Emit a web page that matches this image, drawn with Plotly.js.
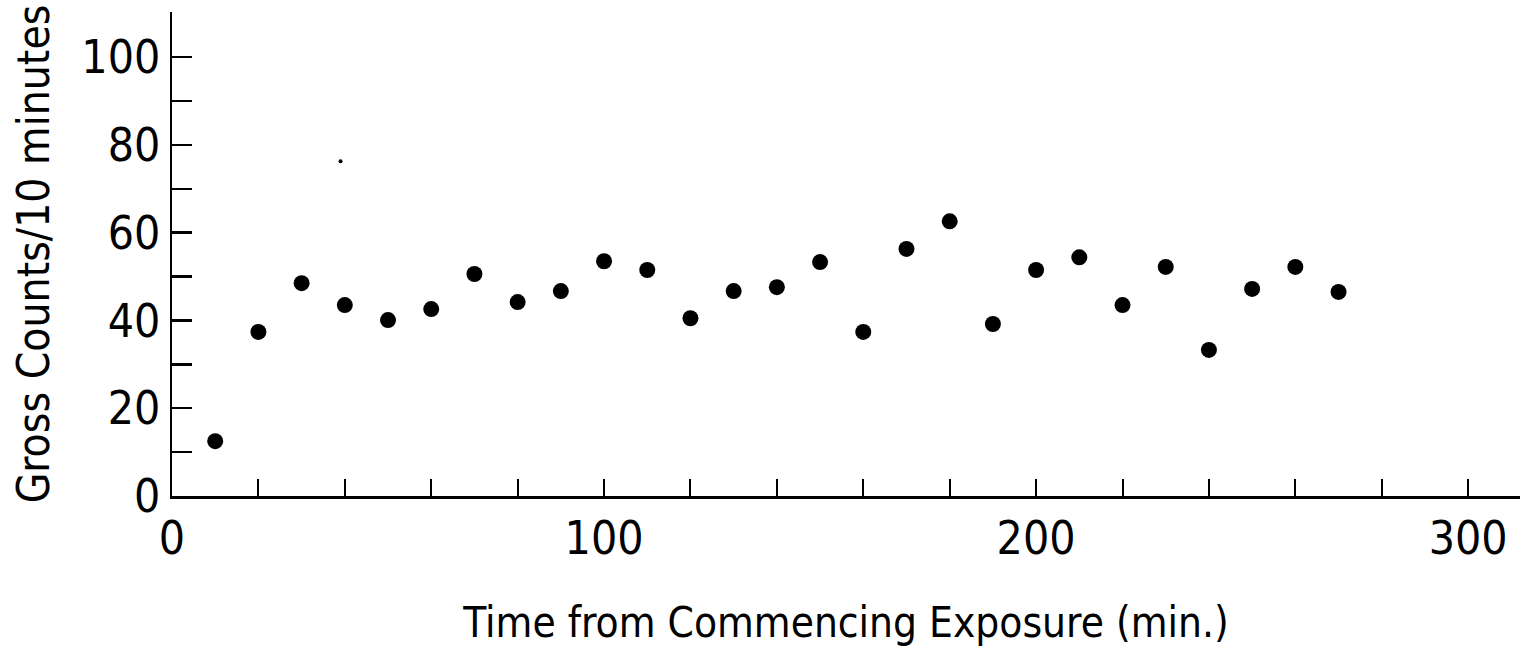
<!DOCTYPE html>
<html>
<head>
<meta charset="utf-8">
<script src="https://cdn.plot.ly/plotly-3.0.1.min.js"></script>
<style>
  html, body { margin: 0; padding: 0; background: #fff; }
  #chart { width: 1522px; height: 656px; }
</style>
</head>
<body>
<div id="chart"></div>
<script>
// Time from commencing exposure (min.)
const times = [10, 20, 30, 40, 50, 60, 70, 80, 90, 100, 110, 120, 130, 140, 150,
               160, 170, 180, 190, 200, 210, 220, 230, 240, 250, 260, 270];
// Gross counts per 10 minutes
const counts = [12.5, 37.4, 48.5, 43.5, 40.1, 42.6, 50.6, 44.2, 46.7, 53.5, 51.5, 40.5, 46.7, 47.6, 53.3,
                37.4, 56.3, 62.6, 39.2, 51.5, 54.4, 43.5, 52.2, 33.3, 47.2, 52.2, 46.5];
// small speck visible in the original figure
const speckX = [39];
const speckY = [76.3];

const xTickVals = [0, 20, 40, 60, 80, 100, 120, 140, 160, 180, 200, 220, 240, 260, 280, 300];
const xTickText = ["0", "", "", "", "", "100", "", "", "", "", "200", "", "", "", "", "300"];
const yTickVals = [0, 10, 20, 30, 40, 50, 60, 70, 80, 90, 100];
const yTickText = ["0", "", "20", "", "40", "", "60", "", "80", "", "100"];

const FONT = '"Liberation Sans Narrow", "DejaVu Sans Condensed", "Arial Narrow", sans-serif';

const traces = [
  {
    x: times, y: counts, type: 'scatter', mode: 'markers',
    marker: { color: '#000', size: 16, line: { width: 0 } },
    hoverinfo: 'x+y'
  },
  {
    x: speckX, y: speckY, type: 'scatter', mode: 'markers',
    marker: { color: '#000', size: 4, line: { width: 0 } },
    hoverinfo: 'skip'
  }
];

const layout = {
  width: 1522, height: 656,
  margin: { l: 172, r: 2, t: 12, b: 160 },
  paper_bgcolor: '#fff', plot_bgcolor: '#fff',
  showlegend: false,
  font: { family: FONT, color: '#000' },
  xaxis: {
    range: [0, 312],
    tickmode: 'array', tickvals: xTickVals, ticktext: xTickText,
    ticks: 'inside', ticklen: 17, tickwidth: 2, tickcolor: '#000',
    showline: true, linecolor: '#000', linewidth: 2.5,
    showgrid: false, zeroline: false,
    tickfont: { family: FONT, size: 46, color: '#000' },
    title: { text: 'Time from Commencing Exposure (min.)', font: { family: FONT, size: 42, color: '#000' }, standoff: 44 },
    automargin: false
  },
  yaxis: {
    range: [0, 110.3],
    tickmode: 'array', tickvals: yTickVals, ticktext: yTickText,
    ticks: 'inside', ticklen: 20, tickwidth: 2.5, tickcolor: '#000',
    showline: true, linecolor: '#000', linewidth: 2.5,
    showgrid: false, zeroline: false,
    tickfont: { family: FONT, size: 46, color: '#000' },
    title: { text: 'Gross Counts/10 minutes', font: { family: FONT, size: 44, color: '#000' }, standoff: 18 },
    automargin: false
  }
};

Plotly.newPlot('chart', traces, layout, { displayModeBar: false, staticPlot: true });
</script>
</body>
</html>
